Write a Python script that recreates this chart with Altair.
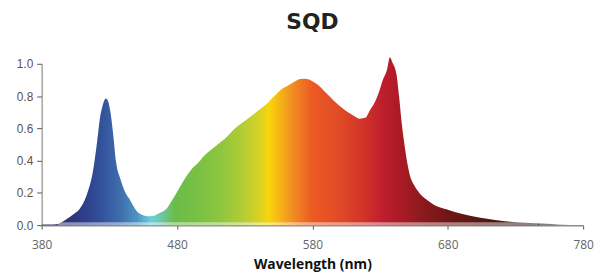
import altair as alt
import pandas as pd

# Spectrum samples (wavelength in nm, relative intensity)
wavelengths = [380, 386, 391, 394, 398, 403, 408, 413, 418, 421, 423, 425, 427.4, 429, 431, 433, 435,
               438, 440, 442, 445, 448, 450, 454, 457, 460, 463, 467, 472, 476, 481, 486, 491, 496,
               500, 504, 510, 516, 523, 530, 540, 546, 552, 557, 562, 567, 571, 575, 579, 584, 590,
               596, 603, 609, 615, 619, 623, 626, 629, 632, 635, 637.3, 639, 642, 644, 646, 648,
               650, 652, 655, 659, 664, 670, 679, 690, 703, 715, 728, 737, 745, 753, 761, 770, 780]
intensity = [0.004, 0.004, 0.006, 0.015, 0.035, 0.065, 0.10, 0.18, 0.34, 0.52, 0.66, 0.74, 0.785, 0.77,
             0.69, 0.55, 0.39, 0.29, 0.24, 0.20, 0.16, 0.115, 0.09, 0.065, 0.057, 0.055, 0.058, 0.075,
             0.10, 0.15, 0.22, 0.29, 0.35, 0.39, 0.43, 0.46, 0.50, 0.54, 0.60, 0.645, 0.71, 0.75, 0.80,
             0.84, 0.865, 0.89, 0.905, 0.907, 0.897, 0.87, 0.82, 0.77, 0.72, 0.685, 0.66, 0.665, 0.72,
             0.76, 0.82, 0.90, 0.96, 1.04, 1.01, 0.94, 0.80, 0.63, 0.50, 0.39, 0.31, 0.25, 0.20, 0.16,
             0.125, 0.098, 0.07, 0.047, 0.032, 0.02, 0.015, 0.012, 0.008, 0.004, 0.001, 0.0]

# Spectrum colour stops (wavelength -> colour)
stop_wavelengths = [380, 391, 400, 412, 425, 438, 450, 461, 468, 478, 495, 512, 530, 540, 548, 556,
                    566, 580, 600, 620, 632, 645, 660, 680, 705, 730, 744, 748, 780]
stop_colors = ["#40455e", "#2a2f6e", "#2b3478", "#2e3f8a", "#34539d", "#3f6dac", "#4e92c2", "#6bcfdc",
               "#6fc6a8", "#6abd4a", "#78c043", "#8dc63f", "#b6cd33", "#d6d226", "#f9d40b", "#f6b417",
               "#f18b21", "#ec5a24", "#e14a26", "#cf3129", "#be1e2d", "#a91b24", "#8e1a1e", "#701616",
               "#561713", "#3a1a13", "#211511", "#7d7d7d", "#9a9a9a"]

df = pd.DataFrame({"wl": wavelengths, "val": intensity})

strip_start = [392]
strip_end = [746]

gradient = alt.Gradient(
    gradient="linear",
    stops=[alt.GradientStop(color=c, offset=(w - 380) / 400) for w, c in zip(stop_wavelengths, stop_colors)],
    x1=0, x2=1, y1=0, y2=0,
)

x_enc = alt.X(
    "wl:Q",
    scale=alt.Scale(domain=[380, 780], nice=False, zero=False),
    axis=alt.Axis(
        values=[380, 480, 580, 680, 780],
        title="Wavelength (nm)",
        titleFont="Open Sans", titleFontSize=14, titleFontWeight="bold", titleColor="#111111",
        titlePadding=7,
        labelFont="Open Sans", labelFontSize=12, labelColor="#666666", labelPadding=11,
        labelFlush=False, labelOverlap=False,
        tickSize=4, tickColor="#555555", domainColor="#8a8a8a", domainWidth=1.5,
        grid=False,
    ),
)
y_enc = alt.Y(
    "val:Q",
    scale=alt.Scale(domain=[0, 1], nice=False),
    axis=alt.Axis(
        values=[0, 0.2, 0.4, 0.6, 0.8, 1.0], format=".1f", title=None,
        labelFont="Liberation Sans", labelFontSize=12, labelColor="#555555", labelPadding=4,
        labelFlush=False,
        tickSize=5, tickColor="#555555", domainColor="#777777", grid=False,
    ),
)

area = alt.Chart(df).mark_area(interpolate="monotone", color=gradient, clip=False).encode(x=x_enc, y=y_enc)

strip = alt.Chart(pd.DataFrame({"a": strip_start, "b": strip_end})).mark_rect(
    color="white", opacity=0.45
).encode(
    x="a:Q", x2="b:Q", y=alt.value(160), y2=alt.value(163)
)

chart = alt.layer(area, strip).properties(
    width=547, height=163,
    title=alt.TitleParams("SQD", font="DejaVu Sans", fontSize=22, fontWeight="bold", color="#222222",
                          anchor="middle", offset=24),
    autosize=alt.AutoSizeParams(type="none"),
    padding={"left": 34, "top": 55, "right": 14, "bottom": 49},
).configure_view(stroke=None)

chart.save("out.html", embed_options={"renderer": "svg", "actions": False})
